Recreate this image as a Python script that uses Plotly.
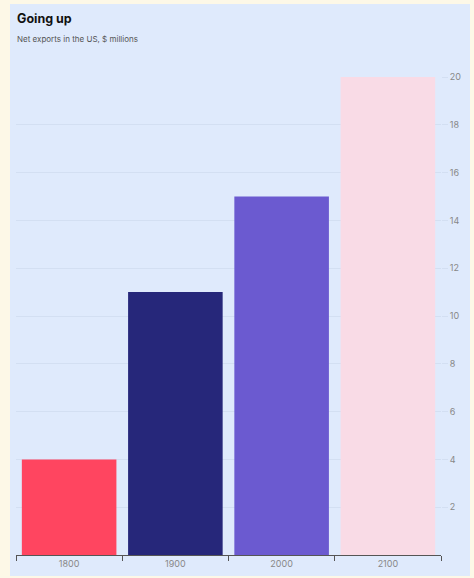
import plotly.graph_objects as go

years = ['1800', '1900', '2000', '2100']
net_exports = [4, 11, 15, 20]
bar_colors = ['#ff4560', '#26277a', '#6b5ad0', '#f9dbe6']
y_ticks = [2, 4, 6, 8, 10, 12, 14, 16, 18, 20]

panel = '#dfeafc'
page = '#fdf8e7'

fig = go.Figure(go.Bar(
    x=years,
    y=net_exports,
    marker=dict(color=bar_colors, line=dict(width=0)),
    hoverinfo='x+y',
))

fig.update_layout(
    width=474,
    height=578,
    margin=dict(l=16, r=33, t=77, b=23, autoexpand=False),
    paper_bgcolor=page,
    plot_bgcolor=panel,
    bargap=0.11,
    showlegend=False,
    font=dict(family='Inter, Lato, sans-serif', color='#777'),
    title=dict(
        text='<b>Going up</b>',
        x=(17 - 16) / 425, xref='paper', xanchor='left',
        y=1 - 19 / 578, yanchor='middle',
        font=dict(size=12.5, color='#111'),
    ),
    annotations=[dict(
        text='Net exports in the US, $ millions',
        xref='paper', yref='paper',
        x=0, xanchor='left', xshift=-1,
        y=(555 - 39) / 478, yanchor='middle',
        showarrow=False,
        font=dict(size=8, color='#555'),
    )],
    shapes=[dict(
        type='rect', xref='paper', yref='paper', layer='below',
        x0=(10 - 16) / 425, x1=(470 - 16) / 425,
        y0=(555 - 576) / 478, y1=(555 - 4) / 478,
        fillcolor=panel, line=dict(width=0),
    )],
)

fig.update_xaxes(
    automargin=False,
    showgrid=False,
    showline=True, linecolor='#555', linewidth=1,
    ticks='outside', tickson='boundaries', ticklen=5, tickcolor='#555',
    tickfont=dict(size=9, color='#888'),
)
fig.update_yaxes(
    automargin=False,
    side='right',
    range=[0, 20],
    tickvals=y_ticks,
    showgrid=True, gridcolor='#d3dff2', gridwidth=1,
    zeroline=False,
    ticks='outside', ticklen=6, tickcolor='#d3dff2',
    tickfont=dict(size=9, color='#888'),
)

# drop the browser's default 8px body margin so the figure sits at 0,0
fig.write_html(
    'out.html',
    config={'displayModeBar': False},
    post_script="document.body.style.margin='0';"
                f"document.body.style.background='{page}';",
)
